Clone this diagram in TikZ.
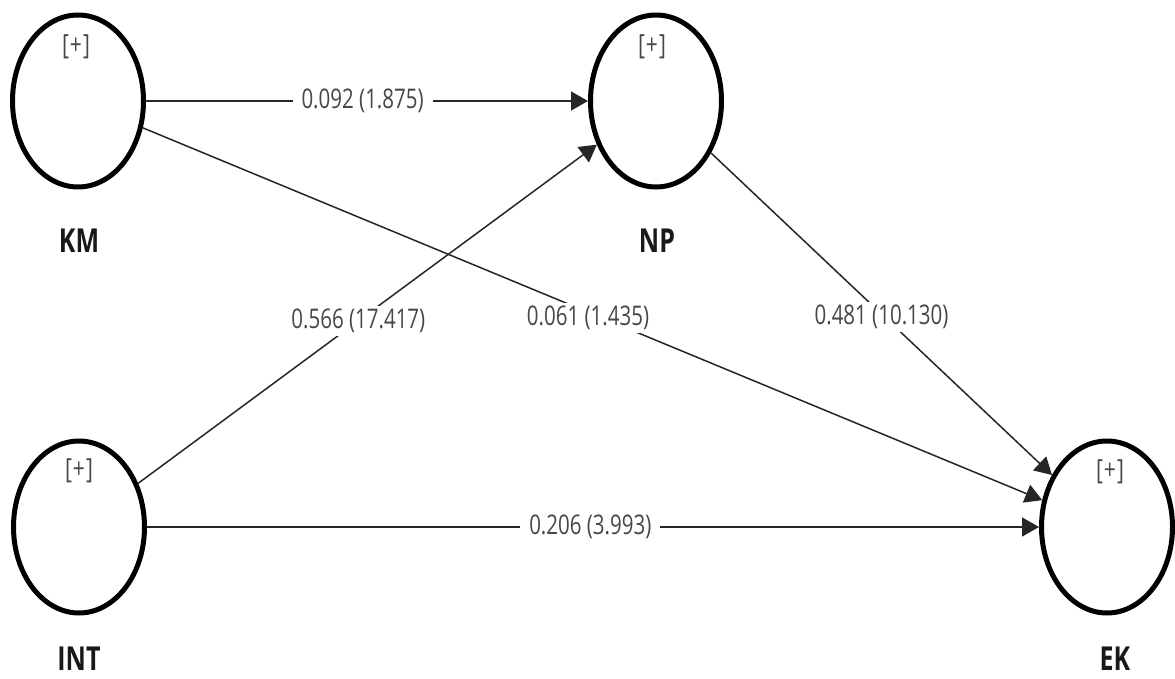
\documentclass[tikz,border=0pt]{standalone}
\usepackage{fontspec}
\usepackage{graphicx}
\setmainfont{Open Sans}
\usetikzlibrary{shapes.geometric,arrows.meta}
% text in this figure is set slightly tall
\newcommand{\tall}[1]{\scalebox{1}[1.32]{#1}}
\begin{document}
\begin{tikzpicture}[x=1pt,y=-1pt,
  construct/.style={ellipse, draw=black, line width=5pt, minimum width=131pt, minimum height=172pt, inner sep=0pt},
  plus/.style={text=black!72, inner sep=0pt, font=\fontsize{21}{24}\selectfont},
  title/.style={inner sep=0pt, font=\bfseries\fontsize{25}{28}\selectfont, text=black!90},
  relation/.style={draw=black!85, line width=1.5pt, -{Triangle[length=17pt,width=19pt]}},
  lbl/.style={fill=white, text=black!72, inner xsep=9pt, inner ysep=3pt, font=\fontsize{20.5}{24}\selectfont}]
\useasboundingbox (0,0) rectangle (1175,679);

% latent constructs
\node[construct] (KM)  at (78,101)   {};
\node[construct] (NP)  at (656,101)  {};
\node[construct] (INT) at (79,527)   {};
\node[construct] (EK)  at (1107,527) {};

% indicator markers
\node[plus] (KMp)  at (76,47)    {\tall{[\kern1pt+\kern1pt]}};
\node[plus] (NPp)  at (652,47)   {\tall{[\kern1pt+\kern1pt]}};
\node[plus] (INTp) at (79,471)   {\tall{[\kern1pt+\kern1pt]}};
\node[plus] (EKp)  at (1110,472) {\tall{[\kern1pt+\kern1pt]}};

% construct names
\node[title] (KMt)  at (79,241)   {\tall{KM}};
\node[title] (NPt)  at (657,241)  {\tall{NP}};
\node[title] (INTt) at (79,659)   {\tall{INT}};
\node[title] (EKt)  at (1115,659) {\tall{EK}};

% structural paths: coefficient (t-value)
\draw[relation] (KM)  -- node[lbl,pos=0.49] (l1) {\tall{0.092 (1.875)}}  (NP);
\draw[relation] (INT) -- node[lbl,pos=0.48] (l2) {\tall{0.566 (17.417)}} (NP);
\draw[relation] (KM)  -- node[lbl,pos=0.495,yshift=-6pt] (l3) {\tall{0.061 (1.435)}}  (EK);
\draw[relation] (NP)  -- node[lbl,pos=0.5,yshift=-3pt] (l4) {\tall{0.481 (10.130)}} (EK);
\draw[relation] (INT) -- node[lbl,pos=0.497] (l5) {\tall{0.206 (3.993)}}  (EK);
\end{tikzpicture}
\end{document}
